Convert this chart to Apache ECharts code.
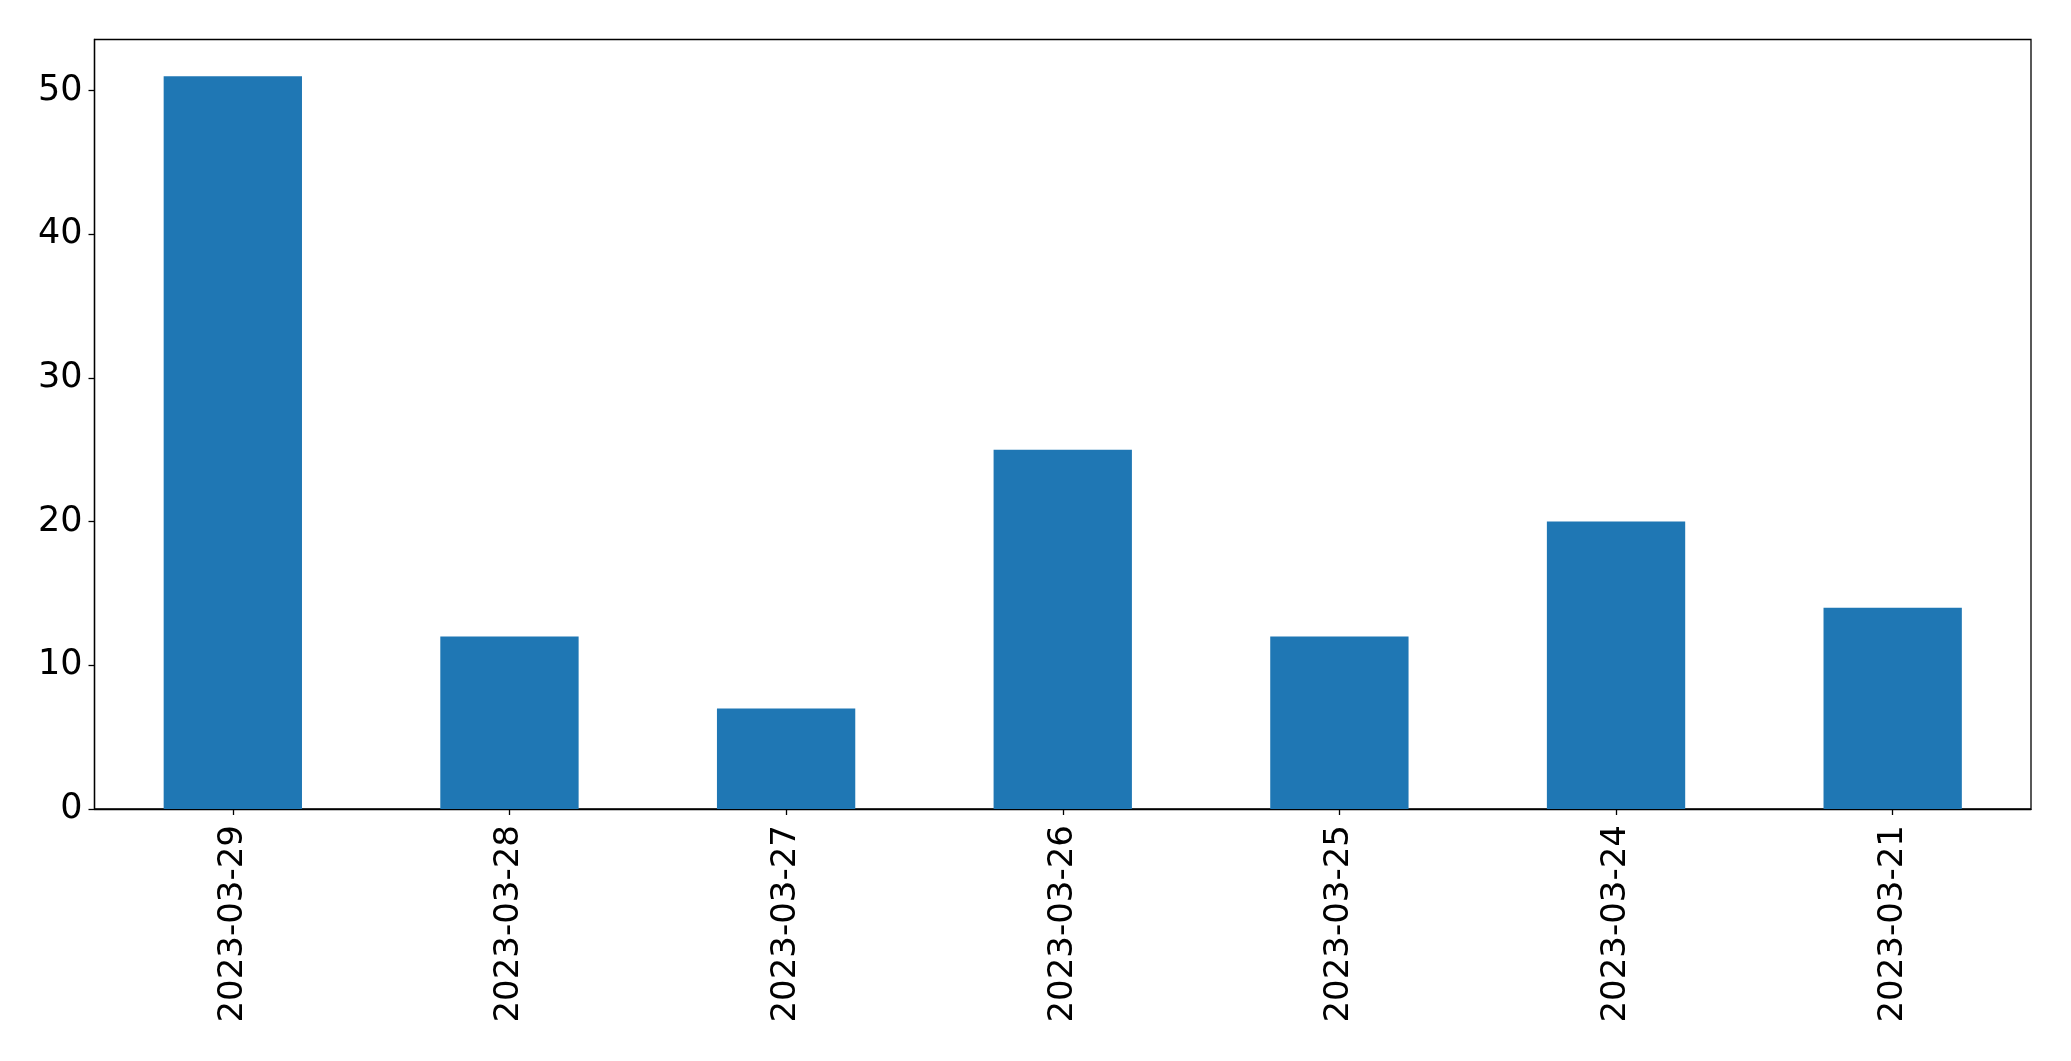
<!DOCTYPE html>
<html>
<head>
<meta charset="utf-8">
<script src="https://cdn.jsdelivr.net/npm/echarts@6/dist/echarts.min.js"></script>
<style>
html,body{margin:0;padding:0;background:#fff;}
#chart{width:2071px;height:1061px;}
</style>
</head>
<body>
<div id="chart"></div>
<script>
const categories = ['2023-03-29','2023-03-28','2023-03-27','2023-03-26','2023-03-25','2023-03-24','2023-03-21'];
const values = [51, 12, 7, 25, 12, 20, 14];
const yMax = 53.55;

const chart = echarts.init(document.getElementById('chart'), null, {renderer:'canvas'});
const font = 'DejaVu Sans';
chart.setOption({
  animation: false,
  backgroundColor: '#ffffff',
  grid: {left: 94.5, right: 40, top: 39.5, bottom: 252, show: true, borderColor: '#000', borderWidth: 1.3, backgroundColor: 'transparent'},
  xAxis: {
    type: 'category',
    data: categories,
    axisLine: {show: true, lineStyle: {color: '#000', width: 1.3}},
    axisTick: {show: true, alignWithLabel: true, length: 6, lineStyle: {color: '#000', width: 1.3}},
    axisLabel: {rotate: 90, margin: 16, color: '#000', fontFamily: font, fontSize: 34},
    splitLine: {show: false}
  },
  yAxis: {
    type: 'value',
    min: 0, max: yMax, interval: 10,
    axisLine: {show: true, lineStyle: {color: '#000', width: 1.3}},
    axisTick: {show: true, length: 6, lineStyle: {color: '#000', width: 1.3}},
    axisLabel: {margin: 12, color: '#000', fontFamily: font, fontSize: 35, showMaxLabel: false,
      formatter: v => (v % 10 === 0 ? String(v) : '')},
    splitLine: {show: false}
  },
  series: [{
    type: 'bar',
    data: values,
    barWidth: '50%',
    itemStyle: {color: '#1f77b4'}
  }]
});
</script>
</body>
</html>
